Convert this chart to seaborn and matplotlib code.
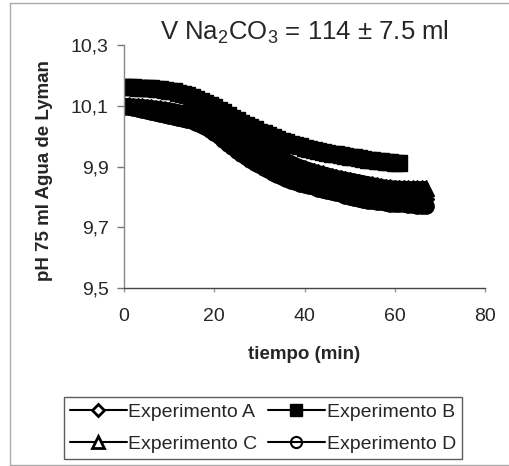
import matplotlib
matplotlib.use("Agg")
import matplotlib.pyplot as plt
import numpy as np
import pandas as pd
import seaborn as sns
from matplotlib.lines import Line2D

# pH readings, one per minute
t_b = list(range(0, 62))
ph_b = [10.162, 10.162, 10.161, 10.160, 10.159, 10.158, 10.157, 10.155, 10.154, 10.152,
        10.150, 10.147, 10.143, 10.139, 10.134, 10.128, 10.122, 10.116, 10.109, 10.102,
        10.095, 10.087, 10.078, 10.069, 10.060, 10.052, 10.044, 10.036, 10.029, 10.022,
        10.015, 10.009, 10.003, 9.997, 9.991, 9.985, 9.980, 9.975, 9.970, 9.966,
        9.962, 9.958, 9.955, 9.951, 9.948, 9.945, 9.942, 9.940, 9.937, 9.935,
        9.932, 9.930, 9.927, 9.925, 9.922, 9.920, 9.918, 9.917, 9.915, 9.914,
        9.912, 9.911]

t_acd = list(range(0, 68))
ph_a = [10.099, 10.097, 10.095, 10.092, 10.089, 10.086, 10.083, 10.080, 10.077, 10.074,
        10.071, 10.068, 10.065, 10.062, 10.058, 10.054, 10.049, 10.043, 10.036, 10.027,
        10.017, 10.006, 9.995, 9.983, 9.972, 9.961, 9.951, 9.941, 9.931, 9.922,
        9.913, 9.905, 9.897, 9.889, 9.882, 9.875, 9.868, 9.862, 9.856, 9.851,
        9.846, 9.841, 9.837, 9.833, 9.829, 9.825, 9.821, 9.817, 9.813, 9.810,
        9.807, 9.805, 9.803, 9.802, 9.801, 9.800, 9.799, 9.798, 9.797, 9.797,
        9.796, 9.796, 9.795, 9.795, 9.795, 9.794, 9.794, 9.794]
ph_c = [10.102, 10.101, 10.100, 10.099, 10.098, 10.097, 10.095, 10.093, 10.091, 10.089,
        10.087, 10.084, 10.081, 10.078, 10.074, 10.070, 10.066, 10.062, 10.058, 10.053,
        10.048, 10.042, 10.035, 10.027, 10.019, 10.011, 10.003, 9.995, 9.987, 9.979,
        9.971, 9.963, 9.955, 9.946, 9.937, 9.928, 9.920, 9.913, 9.906, 9.900,
        9.895, 9.890, 9.885, 9.881, 9.877, 9.873, 9.869, 9.865, 9.862, 9.859,
        9.856, 9.853, 9.850, 9.847, 9.844, 9.841, 9.838, 9.835, 9.833, 9.831,
        9.830, 9.829, 9.829, 9.828, 9.828, 9.828, 9.828, 9.828]
ph_d = [10.097, 10.095, 10.092, 10.089, 10.085, 10.082, 10.079, 10.076, 10.072, 10.069,
        10.066, 10.063, 10.060, 10.057, 10.054, 10.050, 10.044, 10.037, 10.030, 10.020,
        10.010, 9.999, 9.987, 9.975, 9.963, 9.952, 9.942, 9.932, 9.922, 9.913,
        9.904, 9.896, 9.888, 9.880, 9.872, 9.865, 9.859, 9.853, 9.848, 9.843,
        9.839, 9.835, 9.831, 9.827, 9.824, 9.820, 9.816, 9.812, 9.808, 9.804,
        9.800, 9.797, 9.794, 9.791, 9.788, 9.786, 9.784, 9.782, 9.780, 9.778,
        9.777, 9.776, 9.775, 9.774, 9.772, 9.771, 9.770, 9.769]

labels = ["Experimento A", "Experimento B", "Experimento C", "Experimento D"]
y_ticks = [9.5, 9.7, 9.9, 10.1, 10.3]
y_ticklabels = ["9,5", "9,7", "9,9", "10,1", "10,3"]
x_ticks = [0, 20, 40, 60, 80]

df = pd.concat([
    pd.DataFrame({"t": t_acd, "ph": ph_a, "exp": labels[0]}),
    pd.DataFrame({"t": t_b, "ph": ph_b, "exp": labels[1]}),
    pd.DataFrame({"t": t_acd, "ph": ph_c, "exp": labels[2]}),
    pd.DataFrame({"t": t_acd, "ph": ph_d, "exp": labels[3]}),
])

sns.set_style("white")
plt.rcParams["font.family"] = ["Liberation Sans", "DejaVu Sans"]
plt.rcParams["mathtext.fontset"] = "custom"
plt.rcParams["mathtext.rm"] = "Liberation Sans"
plt.rcParams["mathtext.it"] = "Liberation Sans:italic"
plt.rcParams["mathtext.bf"] = "Liberation Sans:bold"

# the markers are so dense in the original that each series reads as a solid
# band; a thick line under them keeps the band edges smooth
styles = {
    labels[0]: dict(marker="D", markersize=8.5),
    labels[1]: dict(marker="s", markersize=11),
    labels[2]: dict(marker="^", markersize=11),
    labels[3]: dict(marker="o", markersize=11),
}

fig = plt.figure(figsize=(5.1, 4.66), dpi=100)
ax = fig.add_axes([124 / 510, 1 - 288 / 466, 361 / 510, 243 / 466])

for lab in labels:
    sns.lineplot(data=df[df["exp"] == lab], x="t", y="ph", color="black", lw=10.5,
                 solid_capstyle="butt", markerfacecolor="black",
                 markeredgecolor="black", markeredgewidth=1, ax=ax, **styles[lab])

ax.set(xlim=(0, 80), ylim=(9.5, 10.3))
ax.set_xticks(x_ticks)
ax.set_xticklabels([str(v) for v in x_ticks])
ax.set_yticks(y_ticks)
ax.set_yticklabels(y_ticklabels)
ax.tick_params(axis="y", direction="out", length=5, width=1, color="#777777",
               labelsize=14, pad=6, left=True)
ax.tick_params(axis="x", direction="out", length=3, width=1, color="#999999",
               labelsize=14, pad=11.5, bottom=True)
for s in ("top", "right"):
    ax.spines[s].set_visible(False)
ax.spines["left"].set_color("#888888")
ax.spines["bottom"].set_color("#444444")
ax.spines["left"].set_linewidth(1)
ax.spines["bottom"].set_linewidth(1)

ax.set_title("V Na$_2$CO$_3$ = 114 ± 7.5 ml", fontsize=18.5, pad=4)
ax.set_xlabel("tiempo (min)", fontsize=13.5, fontweight="bold")
ax.set_ylabel("pH 75 ml Agua de Lyman", fontsize=13.5, fontweight="bold")
ax.xaxis.set_label_coords(0.5, -0.24)
ax.yaxis.set_label_coords(-0.197, 0.485)

handles = [
    Line2D([], [], color="black", lw=1.5, marker="D", markersize=6,
           markerfacecolor="white", markeredgecolor="black", markeredgewidth=2),
    Line2D([], [], color="black", lw=1.5, marker="s", markersize=8,
           markerfacecolor="black", markeredgecolor="black"),
    Line2D([], [], color="black", lw=1.5, marker="^", markersize=8,
           markerfacecolor="white", markeredgecolor="black", markeredgewidth=2),
    Line2D([], [], color="black", lw=1.5, marker="o", markersize=8,
           markerfacecolor="none", markeredgecolor="black", markeredgewidth=1.5),
]
order = [0, 2, 1, 3]
leg = fig.legend([handles[i] for i in order], [labels[i] for i in order], ncol=2,
                 loc="center", bbox_to_anchor=(263 / 510, 1 - 428 / 466),
                 fontsize=14, frameon=True, fancybox=False, handlelength=2.9,
                 handletextpad=0.1, columnspacing=0.55, labelspacing=0.75,
                 borderpad=0.3, borderaxespad=0)
leg.get_frame().set_edgecolor("#333333")
leg.get_frame().set_linewidth(1)

# outer chart frame (grey)
fig.add_artist(Line2D([10 / 510, 1], [1 - 3 / 466, 1 - 3 / 466], color="#aaaaaa", lw=1))
fig.add_artist(Line2D([10 / 510, 10 / 510], [1 - 3 / 466, 1 - 465 / 466], color="#aaaaaa", lw=1))
fig.add_artist(Line2D([10 / 510, 1], [1 - 465 / 466, 1 - 465 / 466], color="#aaaaaa", lw=1))

fig.savefig("out.png", dpi=100)
